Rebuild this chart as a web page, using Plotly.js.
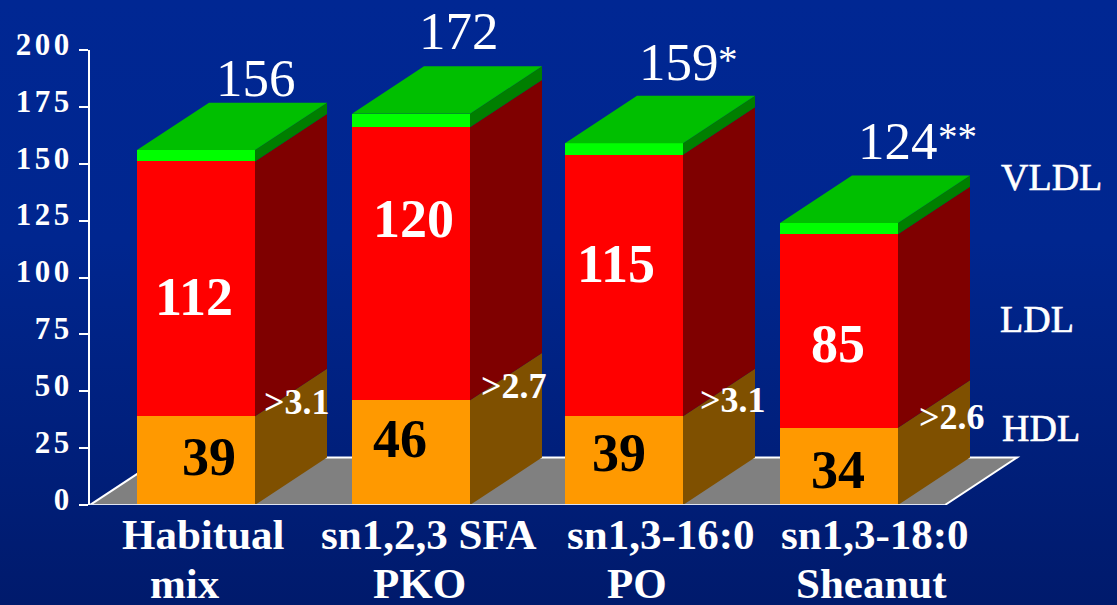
<!DOCTYPE html>
<html>
<head>
<meta charset="utf-8">
<title>Lipoprotein cholesterol by diet</title>
<script src="https://cdn.plot.ly/plotly-3.0.1.min.js"></script>
<style>
  html, body { margin: 0; padding: 0; width: 1117px; height: 605px; overflow: hidden;
    background: linear-gradient(to bottom, #002793 0%, #00268f 40%, #001a6c 100%); }
  #chart { width: 1117px; height: 605px; }
  .ytick text { letter-spacing: 3.5px; }
</style>
</head>
<body>
<div id="chart"></div>
<script>
// Plasma lipoprotein cholesterol per diet
const hdl = [39, 46, 39, 34];
const ldl = [112, 120, 115, 85];
const vldl = [5, 6, 5, 5];
const totals = [156, 172, 159, 124];
const totalMarks = ['', '', '*', '**'];
const ratios = ['>3.1', '>2.7', '>3.1', '>2.6'];
const categoryLines = [['Habitual', 'mix'], ['sn1,2,3 SFA', 'PKO'], ['sn1,3-16:0', 'PO'], ['sn1,3-18:0', 'Sheanut']];
const seriesNames = ['VLDL', 'LDL', 'HDL'];
const yTicks = [0, 25, 50, 75, 100, 125, 150, 175, 200];

// Plot frame in pixels and the axis scales derived from it
const frame = { left: 90, right: 1030, top: 50, bottom: 505.5 };
const pxPerSlot = 214.33, firstCentre = 196;
const pxPerUnit = (frame.bottom - frame.top) / 200;
const dataX = px => (px - firstCentre) / pxPerSlot;
const paperX = px => (px - frame.left) / (frame.right - frame.left);
const paperY = py => (frame.bottom - py) / (frame.bottom - frame.top);

// Oblique projection of the bars and the floor
const slotCentres = [196, 411, 624, 839].map(dataX);
const barWidth = 118 / pxPerSlot;
const depthX = 72 / pxPerSlot;
const depthY = 47.5 / pxPerUnit;

function polygons(makeCorners) {
  const xs = [], ys = [];
  slotCentres.forEach((c, i) => {
    makeCorners(c, i).forEach(p => { xs.push(p[0]); ys.push(p[1]); });
    xs.push(null); ys.push(null);
  });
  return { x: xs, y: ys };
}
function sideFace(lower, upper) {
  return polygons((c, i) => {
    const r = c + barWidth / 2, lo = lower[i], hi = upper[i];
    return [[r, lo], [r + depthX, lo + depthY], [r + depthX, hi + depthY], [r, hi], [r, lo]];
  });
}
const zero = hdl.map(() => 0);
const hdlTop = hdl;
const ldlTop = hdl.map((v, i) => v + ldl[i]);
const vldlTop = ldlTop.map((v, i) => v + vldl[i]);
const topFace = polygons((c, i) => {
  const l = c - barWidth / 2, r = c + barWidth / 2, h = vldlTop[i];
  return [[l, h], [r, h], [r + depthX, h + depthY], [l + depthX, h + depthY], [l, h]];
});

function face(poly, color) {
  return { type: 'scatter', mode: 'lines', x: poly.x, y: poly.y, fill: 'toself', fillcolor: color,
    line: { width: 0, color: color }, hoverinfo: 'skip', showlegend: false };
}
function front(values, color, name) {
  return { type: 'bar', x: slotCentres, y: values, width: barWidth, name: name, marker: { color: color, line: { width: 0 } },
    hoverinfo: 'skip', showlegend: false };
}

const floorLeft = dataX(90), floorRight = dataX(945);
const traces = [
  front(hdl, '#ff9900', 'HDL'),
  front(ldl, '#ff0000', 'LDL'),
  front(vldl, '#00ff00', 'VLDL'),
  face(sideFace(zero, hdlTop), '#7f5000'),
  face(sideFace(hdlTop, ldlTop), '#7f0000'),
  face(sideFace(ldlTop, vldlTop), '#007f00'),
  face(topFace, '#00bf00'),
  { type: 'scatter', mode: 'lines', x: [floorLeft, floorRight], y: [0, 0], cliponaxis: false,
    line: { color: '#dfe4f2', width: 2 }, hoverinfo: 'skip', showlegend: false }
];

// Text placement, as pixel centres
const serif = 'Liberation Serif, Times New Roman, serif';
const ldlSpots = [[194, 297], [413, 219], [616, 264], [838, 344]];
const hdlSpots = [[209, 457], [400, 439], [619, 453], [838, 470]];
const ratioSpots = [[297, 402], [514, 386], [733, 400], [952, 417]];
const totalSpots = [[256, 78], [459, 31], [678.5, 62], [897.5, 141]];
const markSpots = [null, null, [727.5, 60], [957, 137]];
const nameSpots = [[1051, 177], [1037, 319], [1041, 428]];
const lineCentres = [[203, 185], [428, 419], [661, 637], [875, 871]];
const lineRows = [535, 584];
const lastRowBox = 42;

function label(text, spot, size, color, bold, boxHeight) {
  const a = { text: bold ? '<b>' + text + '</b>' : text, x: paperX(spot[0]), y: paperY(spot[1]), xref: 'paper', yref: 'paper',
    xanchor: 'center', yanchor: 'middle', showarrow: false, font: { family: serif, size: size, color: color } };
  if (boxHeight) a.height = boxHeight;
  return a;
}
const annotations = [];
slotCentres.forEach((c, i) => {
  annotations.push(label(String(ldl[i]), ldlSpots[i], 54, '#ffffff', true));
  annotations.push(label(String(hdl[i]), hdlSpots[i], 54, '#000000', true));
  annotations.push(label(ratios[i], ratioSpots[i], 36, '#ffffff', true));
  annotations.push(label(String(totals[i]), totalSpots[i], 53, '#ffffff', false));
  if (totalMarks[i]) annotations.push(label(totalMarks[i], markSpots[i], 39, '#ffffff', false));
  categoryLines[i].forEach((line, row) => {
    annotations.push(label(line, [lineCentres[i][row], lineRows[row]], 43, '#ffffff', true, row === 1 ? lastRowBox : 0));
  });
});
seriesNames.forEach((name, i) => annotations.push(label(name, nameSpots[i], 38, '#ffffff', false)));

const layout = {
  width: 1117, height: 605,
  margin: { l: frame.left, r: 1117 - frame.right, t: frame.top, b: 605 - frame.bottom, pad: 0 },
  paper_bgcolor: 'rgba(0,0,0,0)', plot_bgcolor: 'rgba(0,0,0,0)',
  barmode: 'stack', showlegend: false, hovermode: false,
  xaxis: { range: [dataX(frame.left), dataX(frame.right)], type: 'linear', showgrid: false, zeroline: false,
    showline: false, ticks: '', showticklabels: false, fixedrange: true },
  yaxis: { range: [0, 200], tickvals: yTicks, ticktext: yTicks.map(String), showgrid: false, zeroline: false,
    showline: true, linecolor: '#ffffff', linewidth: 2, ticks: 'outside', ticklen: 9, tickwidth: 2, tickcolor: '#ffffff',
    tickfont: { family: serif, size: 31, color: '#ffffff', weight: 'bold' }, ticklabelstandoff: 0, fixedrange: true },
  shapes: [{
    type: 'path', layer: 'below', xref: 'x', yref: 'y',
    path: 'M ' + floorLeft + ' 0 L ' + (floorLeft + depthX) + ' ' + depthY + ' L ' + (floorRight + depthX) + ' ' + depthY + ' L ' + floorRight + ' 0 Z',
    fillcolor: '#808080', line: { color: '#ffffff', width: 2 }
  }],
  annotations: annotations
};

Plotly.newPlot('chart', traces, layout, { displayModeBar: false, staticPlot: true }).then(() => {
  // Axis numbers sit slightly above their tick marks
  document.querySelectorAll('.ytick text').forEach(t => t.setAttribute('dy', '-6'));
  // The series names carry a heavier stroke than the totals
  document.querySelectorAll('.annotation-text').forEach(t => {
    if (seriesNames.includes(t.textContent)) {
      t.style.stroke = '#ffffff';
      t.style.strokeWidth = '0.6px';
    }
  });
});
</script>
</body>
</html>
